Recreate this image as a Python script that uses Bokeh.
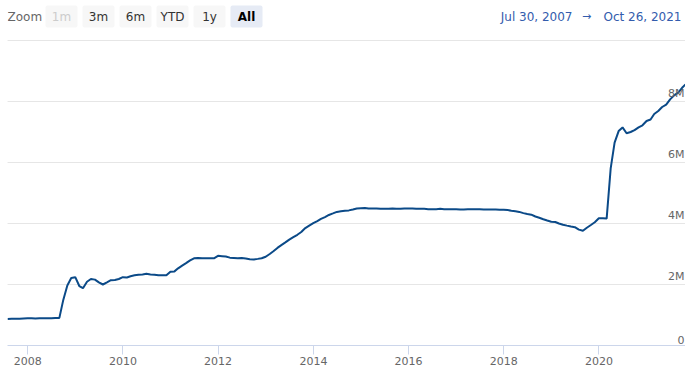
import pandas as pd
from bokeh.plotting import figure
from bokeh.layouts import column
from bokeh.models import Range1d, FixedTicker, DatetimeTickFormatter, Grid, ColumnDataSource
from bokeh.core.properties import value
from bokeh.embed import file_html
from bokeh.resources import INLINE

# ---------------- data ----------------
start_date = "2007-07-30"
end_date = "2021-10-26"

# total assets (billions of USD), first = Jul 30 2007, then month ends Aug 2007 .. Sep 2021, last = Oct 26 2021
assets_2007 = [869, 880, 875, 880, 885, 890]
assets_2008 = [890, 885, 890, 895, 890, 895, 905, 905, 1495, 1970, 2210, 2240]
assets_2009 = [1950, 1880, 2090, 2180, 2160, 2070, 2000, 2070, 2140, 2150, 2180, 2240]
assets_2010 = [2230, 2270, 2300, 2320, 2330, 2350, 2330, 2320, 2300, 2300, 2300, 2420]
assets_2011 = [2430, 2530, 2620, 2700, 2790, 2860, 2870, 2860, 2860, 2860, 2860, 2940]
assets_2012 = [2930, 2920, 2880, 2870, 2860, 2870, 2850, 2830, 2820, 2840, 2860, 2910]
assets_2013 = [3000, 3090, 3200, 3290, 3380, 3470, 3550, 3630, 3720, 3850, 3930, 4010]
assets_2014 = [4080, 4150, 4210, 4280, 4330, 4380, 4400, 4420, 4430, 4460, 4490, 4500]
assets_2015 = [4510, 4490, 4490, 4490, 4480, 4480, 4480, 4490, 4480, 4480, 4490, 4490]
assets_2016 = [4490, 4480, 4480, 4480, 4470, 4470, 4470, 4480, 4470, 4470, 4470, 4470]
assets_2017 = [4460, 4460, 4470, 4470, 4470, 4470, 4460, 4460, 4460, 4460, 4450, 4450]
assets_2018 = [4440, 4420, 4400, 4380, 4340, 4310, 4290, 4230, 4190, 4140, 4100, 4060]
assets_2019 = [4050, 4000, 3960, 3930, 3900, 3880, 3800, 3760, 3860, 3950, 4040, 4170]
assets_2020 = [4170, 4160, 5810, 6650, 7030, 7150, 6960, 7000, 7060, 7150, 7220, 7360]
assets_2021 = [7410, 7590, 7690, 7820, 7900, 8070, 8200, 8290, 8450, 8560]

y_tick_values = [0, 2000, 4000, 6000, 8000]
y_tick_labels = ["0", "2M", "4M", "6M", "8M"]
y_grid_values = [0, 2000, 4000, 6000, 8000, 10000]
x_tick_years = [2008, 2010, 2012, 2014, 2016, 2018, 2020]

zoom_buttons = ["1m", "3m", "6m", "YTD", "1y", "All"]
range_from_text = "Jul 30, 2007"
range_to_text = "Oct 26, 2021"

# ---------------- build series ----------------
values = (assets_2007 + assets_2008 + assets_2009 + assets_2010 + assets_2011 + assets_2012 +
          assets_2013 + assets_2014 + assets_2015 + assets_2016 + assets_2017 + assets_2018 +
          assets_2019 + assets_2020 + assets_2021)
month_ends = list(pd.date_range("2007-08-31", "2021-09-30", freq="ME"))
dates = [pd.Timestamp(start_date)] + month_ends + [pd.Timestamp(end_date)]
assert len(dates) == len(values)

FONT = value("DejaVu Sans")

# ---------------- main chart ----------------
p = figure(width=685, height=333, x_axis_type="datetime",
           x_range=Range1d(pd.Timestamp(start_date), pd.Timestamp(end_date)),
           y_range=Range1d(0, 10000 * 306 / 305),
           y_axis_location=None,
           output_backend="svg", toolbar_location=None,
           min_border_left=7, min_border_right=0, min_border_top=3, min_border_bottom=24)
p.outline_line_color = None
p.background_fill_color = "white"
p.border_fill_color = "white"
p.xgrid.visible = False
p.add_layout(Grid(dimension=1, ticker=FixedTicker(ticks=y_grid_values),
                  grid_line_color="#e6e6e6", grid_line_width=1))

xa = p.xaxis[0]
xa.ticker = FixedTicker(ticks=[pd.Timestamp(f"{y}-01-01").value // 10**6 for y in x_tick_years])
xa.formatter = DatetimeTickFormatter(years="%Y", months="%Y", days="%Y", hours="%Y")
xa.axis_line_color = "#ccd6eb"
xa.major_tick_line_color = "#ccd6eb"
xa.minor_tick_line_color = None
xa.major_tick_in = 0
xa.major_tick_out = 9
xa.major_label_standoff = 2
xa.major_label_text_font = "DejaVu Sans"
xa.major_label_text_font_size = "11px"
xa.major_label_text_color = "#666666"

src = ColumnDataSource(dict(date=dates, val=values))
p.line("date", "val", source=src, line_color="#0b4a88", line_width=2)

p.text(x=[pd.Timestamp(end_date)] * len(y_tick_values), y=y_tick_values, text=y_tick_labels,
       text_align="right", text_baseline="bottom", x_offset=-1, y_offset=-2,
       text_font=FONT, text_font_size="11px", text_color="#666666")

# ---------------- header (range selector) ----------------
h = figure(width=685, height=36, x_range=Range1d(7, 685), y_range=Range1d(36, 0),
           x_axis_location=None, y_axis_location=None,
           output_backend="svg", toolbar_location=None,
           min_border_left=7, min_border_right=0, min_border_top=0, min_border_bottom=0)
h.outline_line_color = None
h.xgrid.visible = False
h.ygrid.visible = False

h.text(x=[7], y=[16], text=["Zoom"], text_baseline="middle", text_align="left",
       text_font=FONT, text_font_size="12px", text_color="#666666")

btn_left = [45 + 37 * i for i in range(len(zoom_buttons))]
btn_fill = ["#f7f7f7"] * (len(zoom_buttons) - 1) + ["#e6ebf5"]
h.quad(left=btn_left, right=[b + 32 for b in btn_left], top=[5] * len(btn_left),
       bottom=[27] * len(btn_left), fill_color=btn_fill, line_color=None, border_radius=2)
btn_colors = ["#cccccc"] + ["#333333"] * (len(zoom_buttons) - 2)
h.text(x=[b + 16 for b in btn_left[:-1]], y=[16] * (len(btn_left) - 1), text=zoom_buttons[:-1],
       text_align="center", text_baseline="middle", text_font=FONT, text_font_size="12px",
       text_color=btn_colors)
h.text(x=[btn_left[-1] + 16], y=[16], text=[zoom_buttons[-1]], text_align="center",
       text_baseline="middle", text_font=FONT, text_font_size="12px", text_font_style="bold",
       text_color="#000000")

h.text(x=[572], y=[16], text=[range_from_text], text_align="right", text_baseline="middle",
       text_font=FONT, text_font_size="12px", text_color="#335cad")
h.text(x=[586], y=[16], text=["\u2192"], text_align="center", text_baseline="middle",
       text_font=FONT, text_font_size="11px", text_color="#335cad")
h.text(x=[603], y=[16], text=[range_to_text], text_align="left", text_baseline="middle",
       text_font=FONT, text_font_size="12px", text_color="#335cad")

layout = column(h, p, spacing=0)
open("out.html", "w").write(file_html(layout, INLINE))
